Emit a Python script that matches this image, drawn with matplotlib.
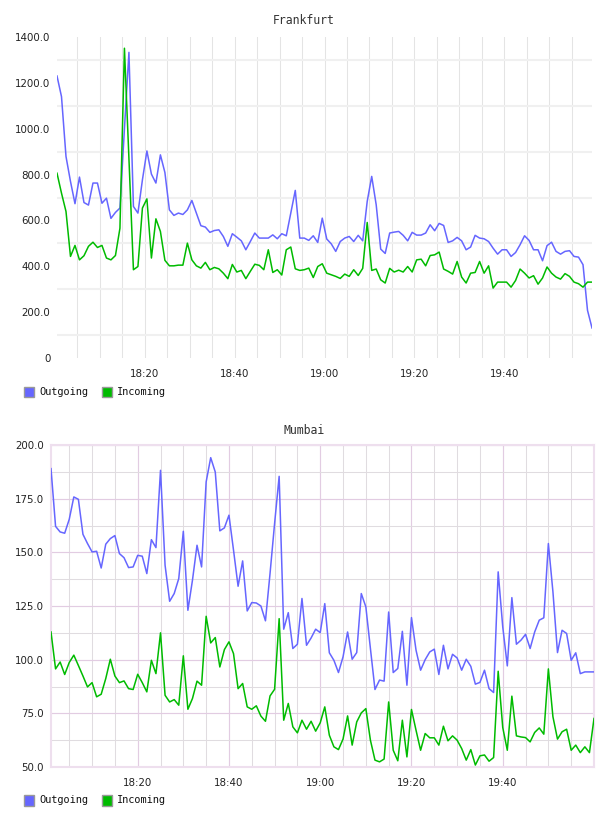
import numpy as np
import matplotlib
matplotlib.use("Agg")
import matplotlib.pyplot as plt
from matplotlib.patches import Rectangle

# ---------------- data ----------------
fra_start_min = 0.5          # minutes after 18:00
mum_start_min = 1.0
step_min = 1.0

fra_outgoing = [1230, 1140, 879, 770, 673, 789, 678, 667, 763, 763,
                675, 697, 609, 635, 654, 1000, 1333, 661, 632, 777,
                903, 802, 763, 886, 809, 646, 622, 632, 626, 646,
                687, 632, 577, 571, 548, 556, 559, 530, 487, 542,
                527, 511, 472, 508, 545, 523, 523, 523, 537, 520,
                542, 533, 632, 731, 523, 523, 513, 533, 504, 610,
                519, 498, 465, 508, 523, 530, 508, 535, 511, 683,
                792, 668, 475, 456, 545, 549, 552, 535, 511, 548,
                536, 536, 545, 581, 555, 587, 578, 504, 511, 526,
                511, 472, 484, 535, 523, 520, 508, 479, 453, 472,
                472, 443, 460, 494, 533, 513, 472, 472, 424, 490,
                505, 465, 453, 465, 468, 443, 440, 407, 208, 131]
fra_incoming = [806, 719, 639, 443, 491, 428, 446, 487, 505, 482,
                491, 436, 428, 447, 566, 1351, 870, 385, 399, 654,
                694, 436, 607, 552, 426, 402, 402, 405, 405, 501,
                428, 402, 392, 417, 385, 395, 389, 370, 346, 408,
                375, 382, 346, 378, 409, 404, 385, 472, 373, 385,
                362, 472, 484, 389, 382, 385, 392, 351, 399, 411,
                370, 363, 356, 347, 366, 356, 385, 360, 391, 591,
                382, 388, 341, 327, 391, 375, 383, 375, 399, 375,
                428, 431, 402, 447, 450, 462, 388, 378, 366, 421,
                353, 327, 370, 373, 421, 370, 402, 305, 331, 331,
                331, 309, 338, 388, 370, 349, 359, 322, 349, 397,
                370, 353, 344, 368, 356, 331, 324, 309, 331, 331]

mum_outgoing = [189.0, 162.1, 159.5, 158.9, 165.4, 175.8, 174.7, 158.4, 154.1, 150.2,
                150.5, 142.7, 153.8, 156.4, 157.8, 149.4, 147.5, 142.9, 143.2, 148.6,
                148.2, 140.1, 155.9, 152.2, 188.2, 144.0, 127.2, 130.8, 137.8, 159.8,
                123.0, 137.0, 153.3, 143.2, 182.8, 194.1, 187.4, 160.0, 161.4, 167.3,
                151.0, 134.2, 146.0, 122.7, 126.6, 126.4, 125.0, 118.1, 140.1, 163.4,
                185.4, 114.2, 121.9, 105.2, 107.2, 128.5, 106.7, 110.1, 114.2, 112.6,
                126.1, 103.2, 99.7, 94.0, 101.3, 112.9, 100.2, 103.3, 130.8, 124.6,
                105.2, 86.1, 90.5, 90.0, 122.2, 94.0, 95.9, 113.2, 88.1, 119.6,
                104.4, 95.1, 100.0, 103.6, 104.9, 93.1, 106.7, 95.7, 102.5, 100.8,
                95.1, 100.2, 96.9, 88.6, 89.4, 95.1, 86.5, 84.7, 140.9, 115.3,
                97.1, 128.9, 107.2, 109.1, 111.8, 105.2, 112.9, 118.4, 119.5, 154.1,
                131.6, 103.3, 113.7, 112.2, 99.7, 103.2, 93.5, 94.3, 94.3, 94.3]
mum_incoming = [112.9, 95.7, 98.9, 93.1, 98.7, 102.1, 97.3, 92.4, 87.3, 89.3,
                82.7, 83.9, 91.2, 100.2, 92.4, 89.3, 90.1, 86.5, 86.1, 93.2,
                89.3, 85.0, 99.7, 93.5, 112.5, 83.4, 80.3, 81.4, 78.8, 101.8,
                76.9, 81.9, 90.0, 88.1, 120.2, 107.8, 110.3, 96.6, 104.7, 108.3,
                102.8, 86.5, 88.9, 78.0, 76.9, 78.5, 73.7, 71.3, 83.1, 86.2,
                119.1, 71.8, 79.6, 68.7, 65.9, 71.8, 67.6, 71.3, 66.7, 70.6,
                78.0, 64.8, 59.4, 58.1, 63.0, 73.8, 60.2, 71.0, 75.2, 77.2,
                62.5, 53.2, 52.4, 53.7, 80.3, 57.8, 52.9, 71.8, 54.7, 76.8,
                67.1, 57.8, 65.6, 63.6, 63.6, 60.2, 69.0, 62.2, 64.5, 62.5,
                58.6, 53.2, 58.1, 50.9, 55.2, 55.6, 52.7, 54.4, 94.6, 68.4,
                57.8, 83.0, 64.5, 64.0, 63.7, 61.7, 66.1, 68.2, 65.3, 95.7,
                73.4, 63.0, 66.4, 67.6, 57.8, 60.2, 56.7, 59.4, 56.7, 72.6]

x_tick_labels = ["18:20", "18:40", "19:00", "19:20", "19:40"]
fra_y_ticks = [0, 200, 400, 600, 800, 1000, 1200, 1400]
mum_y_ticks = [50, 75, 100, 125, 150, 175, 200]
titles = ["Frankfurt", "Mumbai"]
series_names = ["Outgoing", "Incoming"]

# ---------------- style ----------------
C_OUT = "#6666ff"
C_IN = "#00bb00"
W, H = 608, 816

def tmin(lbl):
    h, m = lbl.split(":")
    return (int(h) - 18) * 60 + int(m)

fig = plt.figure(figsize=(W / 100, H / 100), dpi=100)
fig.patch.set_facecolor("white")

def fx(px):
    return px / W

def fy(py):
    return 1 - py / H

def add_legend(ycenter):
    items = [(24, C_OUT, series_names[0]), (102, C_IN, series_names[1])]
    for x0, col, name in items:
        fig.patches.append(Rectangle((fx(x0), fy(ycenter + 5.5)), 10 / W, 11 / H,
                                     transform=fig.transFigure, facecolor=col,
                                     edgecolor="#999999", lw=1.0))
        fig.text(fx(x0 + 15), fy(ycenter), name, fontsize=7.4,
                 family="DejaVu Sans Mono", va="center", ha="left", color="#111111")

major_x = [tmin(l) for l in x_tick_labels]

# ---- Frankfurt ----
ax1 = fig.add_axes([fx(57), fy(358), fx(592) - fx(57), fy(37) - fy(358)])
n1 = len(fra_outgoing)
t1 = fra_start_min + step_min * np.arange(n1)
ax1.set_xlim(t1[0], t1[-1])
ax1.set_ylim(0, 1400)
for s in ax1.spines.values():
    s.set_visible(False)
ax1.set_yticks(fra_y_ticks)
ax1.set_yticklabels(["0" if v == 0 else f"{v:.1f}" for v in fra_y_ticks])
ax1.set_yticks(np.arange(100, 1400, 200), minor=True)
ax1.set_xticks(major_x)
ax1.set_xticklabels(x_tick_labels)
ax1.set_xticks(np.arange(5, 120, 5), minor=True)
ax1.tick_params(which="both", length=0)
ax1.tick_params(axis="y", pad=4.8, labelsize=7.4, labelcolor="#222222")
ax1.tick_params(axis="x", pad=8, labelsize=7.4, labelcolor="#222222")
ax1.grid(which="minor", axis="y", color="#f0f0f0", lw=1.45)
ax1.grid(which="both", axis="x", color="#e4e4e4", lw=0.75)
ax1.set_axisbelow(True)
ax1.plot(t1, fra_outgoing, color=C_OUT, lw=1.1, zorder=3)
ax1.plot(t1, fra_incoming, color=C_IN, lw=1.1, zorder=3)
fig.text(0.5, fy(20), titles[0], ha="center", va="center",
         family="DejaVu Sans Mono", fontsize=8.3, color="#333333")
add_legend(392)

# ---- Mumbai ----
ax2 = fig.add_axes([fx(51), fy(767), fx(594) - fx(51), fy(445) - fy(767)])
n2 = len(mum_outgoing)
t2 = mum_start_min + step_min * np.arange(n2)
ax2.set_xlim(t2[0], t2[-1])
ax2.set_ylim(50, 200)
for s in ax2.spines.values():
    s.set_color("#eedfee")
    s.set_linewidth(1.5)
ax2.set_yticks(mum_y_ticks)
ax2.set_yticklabels([f"{v:.1f}" for v in mum_y_ticks])
ax2.set_yticks(np.arange(62.5, 200, 25), minor=True)
ax2.set_xticks(major_x)
ax2.set_xticklabels(x_tick_labels)
ax2.set_xticks([m for m in range(5, 121, 5) if m not in major_x], minor=True)
ax2.tick_params(which="both", length=0)
ax2.tick_params(axis="y", pad=5.2, labelsize=7.4, labelcolor="#222222")
ax2.tick_params(axis="x", pad=8, labelsize=7.4, labelcolor="#222222")
ax2.grid(which="major", axis="both", color="#e2cce2", lw=0.85)
ax2.grid(which="minor", axis="both", color="#e0dce0", lw=0.75)
ax2.set_axisbelow(True)
ax2.plot(t2, mum_outgoing, color=C_OUT, lw=1.1, zorder=3)
ax2.plot(t2, mum_incoming, color=C_IN, lw=1.1, zorder=3)
fig.text(0.5, fy(430), titles[1], ha="center", va="center",
         family="DejaVu Sans Mono", fontsize=8.3, color="#333333")
add_legend(800)

fig.savefig("out.png", dpi=100, facecolor="white")
